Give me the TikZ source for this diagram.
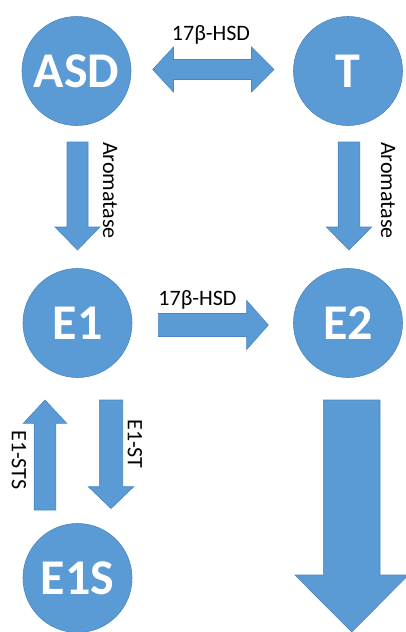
\documentclass[tikz,border=0pt]{standalone}
\usepackage{fontspec}
\setmainfont{Carlito}
\definecolor{shapeblue}{HTML}{5B9BD5}
\definecolor{edgeblue}{HTML}{4A86C0}
\begin{document}
\begin{tikzpicture}[x=1pt,y=-1pt,
  mol/.style={circle,fill=shapeblue,draw=edgeblue,line width=0.6pt,minimum size=109pt,inner sep=0pt,
    text=white,font=\fontsize{50}{50}\selectfont\bfseries},
  blockarrow/.style={fill=shapeblue,draw=edgeblue,line width=0.6pt,line join=miter},
  enz/.style={font=\fontsize{22}{22}\selectfont,inner sep=0pt},
  venz/.style={enz,rotate=-90}]
\useasboundingbox (0,0) rectangle (406,632);
\clip (0,0) rectangle (406,632);
% molecules
\node[mol] (ASD) at (76.5,71) {ASD};
\node[mol] (T) at (348,71) {T};
\node[mol] (E1) at (77.5,323) {E1};
\node[mol] (E2) at (348,323) {E2};
\node[mol] (E1S) at (77.5,578) {E1S};
% ASD <-> T
\draw[blockarrow] (152.7,69.5) -- (173.5,47) -- (173.5,59.5) -- (251.5,59.5) -- (251.5,47)
  -- (274,69.5) -- (251.5,92) -- (251.5,79.5) -- (173.5,79.5) -- (173.5,92) -- cycle;
\node[enz,anchor=base] (hsd1) at (211,40) {17β-HSD};
% aromatase arrows
\draw[blockarrow] (67,142) -- (88,142) -- (88,227) -- (100,227) -- (77.5,250) -- (55,227) -- (67,227) -- cycle;
\draw[blockarrow] (338.2,142) -- (359.8,142) -- (359.8,227) -- (371.7,227) -- (349,250) -- (326.3,227) -- (338.2,227) -- cycle;
\node[venz] (aro1) at (110,190.5) {Aromatase};
\node[venz] (aro2) at (388,190.5) {Aromatase};
% E1 -> E2
\draw[blockarrow] (158.3,313.5) -- (246.7,313.5) -- (246.7,300.5) -- (268.3,325) -- (246.7,349.5)
  -- (246.7,336.5) -- (158.3,336.5) -- cycle;
\node[enz,anchor=base] (hsd2) at (197.5,305) {17β-HSD};
% E1S -> E1 (up)
\draw[blockarrow] (34.2,510) -- (34.2,423.3) -- (23.3,423.3) -- (45,400) -- (66.7,423.3)
  -- (55.8,423.3) -- (55.8,510) -- cycle;
\node[venz] (sts) at (19,460) {E1-STS};
% E1 -> E1S (down)
\draw[blockarrow] (99.3,400) -- (122.7,400) -- (122.7,486.7) -- (133.7,486.7) -- (111,508.5)
  -- (88.3,486.7) -- (99.3,486.7) -- cycle;
\node[venz] (st) at (135,444) {E1-ST};
% big arrow from E2
\draw[blockarrow] (323.3,400) -- (380,400) -- (380,575) -- (408.4,575) -- (351.7,632)
  -- (295,575) -- (323.3,575) -- cycle;
\end{tikzpicture}
\end{document}
